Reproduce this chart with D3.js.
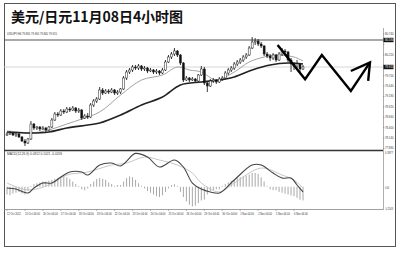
<!DOCTYPE html>
<html><head><meta charset="utf-8">
<script src="https://cdn.jsdelivr.net/npm/d3@7"></script>
<style>
body{margin:0;background:#fff;}
svg{display:block;}
</style></head>
<body>
<svg id="chart" width="400" height="253"></svg>
<script>
var W = 400, H = 253;

// USDJPY H4 bars: [open, high, low, close]
var candles = [
 [78.215,78.29,78.19,78.24],[78.24,78.315,78.215,78.265],[78.265,78.29,78.19,78.215],[78.215,78.265,78.165,78.24],
 [78.24,78.265,78.14,78.165],[78.165,78.19,78.04,78.065],[78.065,78.115,77.94,78.015],[78.015,78.14,77.99,78.115],
 [78.115,78.565,78.09,78.49],[78.49,78.515,78.34,78.39],[78.39,78.44,78.34,78.415],[78.415,78.44,78.315,78.365],
 [78.365,78.44,78.34,78.39],[78.39,78.415,78.29,78.34],[78.34,78.44,78.315,78.415],[78.415,78.64,78.39,78.59],
 [78.59,78.79,78.565,78.74],[78.74,78.79,78.665,78.715],[78.715,78.865,78.69,78.815],[78.815,78.865,78.74,78.79],
 [78.79,78.915,78.765,78.865],[78.865,78.915,78.79,78.84],[78.84,78.94,78.815,78.89],[78.89,78.915,78.765,78.815],
 [78.815,78.89,78.765,78.84],[78.84,78.865,78.59,78.64],[78.64,78.74,78.615,78.69],[78.69,78.765,78.615,78.665],
 [78.665,79.015,78.64,78.965],[78.965,79.115,78.915,79.065],[79.065,79.165,79.015,79.115],[79.115,79.415,79.09,79.34],
 [79.34,79.39,79.215,79.265],[79.265,79.365,79.24,79.315],[79.315,79.365,79.24,79.29],[79.29,79.39,79.265,79.34],
 [79.34,79.365,79.215,79.265],[79.265,79.34,79.215,79.29],[79.29,79.39,79.24,79.365],[79.365,79.69,79.34,79.64],
 [79.64,79.84,79.59,79.79],[79.79,79.89,79.74,79.84],[79.84,79.965,79.79,79.915],[79.915,79.965,79.84,79.89],
 [79.89,79.99,79.84,79.94],[79.94,79.965,79.815,79.865],[79.865,79.94,79.815,79.89],[79.89,79.915,79.765,79.815],
 [79.815,79.89,79.79,79.84],[79.84,79.865,79.74,79.79],[79.79,79.865,79.74,79.815],[79.815,79.84,79.715,79.765],
 [79.765,79.89,79.74,79.84],[79.84,80.09,79.815,80.04],[80.04,80.215,80.015,80.165],[80.165,80.29,80.115,80.24],
 [80.24,80.39,80.19,80.315],[80.315,80.34,80.165,80.215],[80.215,80.24,79.965,80.015],[80.015,80.04,79.54,79.59],
 [79.59,79.69,79.565,79.64],[79.64,79.665,79.54,79.59],[79.59,79.665,79.565,79.615],[79.615,79.64,79.515,79.565],
 [79.565,79.74,79.54,79.715],[79.715,79.94,79.69,79.865],[79.865,79.915,79.465,79.515],[79.515,79.565,79.29,79.44],
 [79.44,79.615,79.415,79.565],[79.565,79.64,79.515,79.59],[79.59,79.615,79.49,79.54],[79.54,79.665,79.515,79.615],
 [79.615,79.69,79.565,79.64],[79.64,79.815,79.615,79.765],[79.765,79.89,79.715,79.84],[79.84,79.94,79.79,79.89],
 [79.89,80.04,79.84,79.99],[79.99,80.09,79.94,80.04],[80.04,80.14,79.99,80.09],[80.09,80.215,80.04,80.165],
 [80.165,80.265,80.115,80.215],[80.215,80.44,80.19,80.39],[80.39,80.665,80.365,80.54],[80.54,80.64,80.465,80.565],
 [80.565,80.615,80.44,80.49],[80.49,80.54,80.39,80.44],[80.44,80.465,80.19,80.24],[80.24,80.29,80.14,80.19],
 [80.19,80.24,80.065,80.14],[80.14,80.265,80.09,80.215],[80.215,80.24,80.04,80.09],[80.09,80.29,80.065,80.24],
 [80.24,80.39,80.19,80.315],[80.315,80.365,80.215,80.29],[80.29,80.315,80.04,80.09],[80.09,80.14,79.79,79.99],
 [79.99,80.04,79.84,79.94],[79.94,80.09,79.89,79.99],[79.99,80.015,79.79,79.865],[79.865,79.965,79.84,79.915]
];

// moving averages, [bar, price]
var fastMA = [[0,78.315],[4,78.29],[8,78.265],[14,78.34],[20,78.49],[25,78.615],[31,78.79],[38,79.215],
  [45,79.59],[52,79.715],[57,79.915],[61,79.84],[65,79.79],[70,79.59],[76,79.79],[81,80.04],[86,80.165],
  [90,80.215],[96,80.165],[99,80.065]];
var slowMA = [[0,78.29],[8,78.265],[14,78.29],[20,78.39],[27,78.465],[31,78.515],[38,78.715],[45,78.965],
  [52,79.165],[58,79.465],[65,79.54],[71,79.59],[76,79.665],[82,79.84],[88,79.965],[94,80.015],[99,79.99]];

// MACD histogram, one value per bar
var macdHist = [-0.09,-0.10,-0.08,-0.07,-0.06,-0.08,-0.09,-0.05,0.01,0.03,
  0.04,0.05,0.06,0.06,0.07,0.08,0.09,0.10,0.11,0.12,
  0.11,0.09,0.06,0.03,0.01,-0.03,-0.04,-0.02,0.03,0.06,
  0.09,0.10,0.09,0.08,0.05,0.03,0.01,0.02,0.02,0.06,
  0.10,0.12,0.11,0.08,0.04,0.01,-0.02,-0.05,-0.07,-0.09,
  -0.11,-0.12,-0.10,-0.06,-0.02,0.02,0.03,0.01,-0.06,-0.12,
  -0.17,-0.21,-0.23,-0.22,-0.19,-0.16,-0.15,-0.09,-0.05,-0.04,
  -0.03,-0.03,0.01,0.03,0.05,0.07,0.08,0.10,0.11,0.12,
  0.13,0.14,0.16,0.16,0.15,0.11,0.06,0.01,-0.03,-0.04,
  -0.04,-0.06,-0.07,-0.08,-0.09,-0.10,-0.11,-0.13,-0.15,-0.16];
var macdLine = [[0,-0.015],[3,-0.027],[7,-0.073],[9,-0.015],[12,0.043],[15,0.043],[18,0.113],[21,0.171],
  [25,0.171],[27,0.136],[31,0.252],[35,0.275],[38,0.241],[42,0.368],[43,0.387],[47,0.345],[51,0.229],
  [56,0.31],[59,0.229],[62,0.043],[65,-0.027],[68,-0.061],[71,-0.073],[76,0.078],[82,0.252],[85,0.252],
  [89,0.159],[92,0.101],[95,0.101],[97,0.02],[99,-0.061]];
var signalLine = [[0,0.043],[7,-0.038],[14,0.02],[20,0.136],[27,0.171],[35,0.252],[40,0.275],[46,0.345],
  [51,0.31],[57,0.252],[62,0.159],[65,0.043],[71,-0.061],[76,0.043],[85,0.217],[92,0.136],[96,0.078],[99,-0.015]];

var priceTicks = [77.88,78.14,78.40,78.66,78.92,79.18,79.44,79.70,79.96,80.22,80.48,80.74];
var macdTicks = [0.3977, 0, -0.2543];
var timeLabels = ["12 Oct 2012","15 Oct 04:00","16 Oct 04:00","17 Oct 04:00","18 Oct 04:00","19 Oct 04:00",
  "22 Oct 04:00","23 Oct 04:00","24 Oct 04:00","25 Oct 04:00","26 Oct 04:00","29 Oct 04:00","30 Oct 04:00",
  "1 Nov 04:00","2 Nov 04:00","5 Nov 04:00","6 Nov 04:00"];
var labelEvery = 6;

var resistance = 80.59;
var bid = 79.915;
// hand drawn forecast, [bar, price]
var forecast = [[90.5,80.465],[99.7,79.61],[105.3,80.215],[115,79.315],[121.4,80.03]];
var arrowHead = [[115,79.815],[121.4,80.03],[120.8,79.57]];

var svg = d3.select("#chart");
var plotL = 4, plotR = 383;

var x = d3.scaleLinear().domain([0, candles.length - 1]).range([7, 303]);
var y = d3.scaleLinear().domain([77.88, 80.74]).range([148.4, 34]);
var ym = d3.scaleLinear().domain([-0.2543, 0.3977]).range([208.6, 152.5]);

var small = "'Liberation Sans', Arial, sans-serif";

// title
svg.append("text")
  .attr("x", 11).attr("y", 22)
  .attr("font-family", "'Noto Sans CJK SC', sans-serif")
  .attr("font-weight", 700)
  .attr("font-size", "14px")
  .attr("fill", "#111")
  .attr("textLength", 172).attr("lengthAdjust", "spacing")
  .text("美元/日元11月08日4小时图");

// outer frame
svg.append("rect")
  .attr("x", 4.5).attr("y", 3.5).attr("width", 391).attr("height", 243)
  .attr("fill", "none").attr("stroke", "#555").attr("stroke-width", 1);

// window lines
svg.append("line").attr("x1", plotL).attr("x2", plotR).attr("y1", y(bid)).attr("y2", y(bid))
  .attr("stroke", "#ccc").attr("stroke-width", 0.8);
svg.append("line").attr("x1", plotL).attr("x2", plotR).attr("y1", y(resistance)).attr("y2", y(resistance))
  .attr("stroke", "#555").attr("stroke-width", 1.1);
svg.append("line").attr("x1", plotL).attr("x2", plotR).attr("y1", 150.5).attr("y2", 150.5)
  .attr("stroke", "#333").attr("stroke-width", 1.3);
svg.append("line").attr("x1", plotL).attr("x2", plotR).attr("y1", 209.5).attr("y2", 209.5)
  .attr("stroke", "#888").attr("stroke-width", 0.8);
svg.append("line").attr("x1", plotR + 0.5).attr("x2", plotR + 0.5).attr("y1", 28).attr("y2", 210)
  .attr("stroke", "#999").attr("stroke-width", 0.8);

// symbol label
svg.append("text").attr("x", 7).attr("y", 34.5)
  .attr("font-family", small).attr("font-size", "3px").attr("fill", "#333")
  .attr("textLength", 50).attr("lengthAdjust", "spacingAndGlyphs")
  .text("USDJPY,H4  79.865 79.965 79.840 79.915");

// moving averages
var maLine = d3.line().x(function(d){ return x(d[0]); }).y(function(d){ return y(d[1]); })
  .curve(d3.curveCatmullRom);
svg.append("path").attr("d", maLine(fastMA))
  .attr("fill", "none").attr("stroke", "#999").attr("stroke-width", 0.9);
svg.append("path").attr("d", maLine(slowMA))
  .attr("fill", "none").attr("stroke", "#222").attr("stroke-width", 1.6);

// candles
var bars = svg.append("g");
bars.selectAll("line").data(candles).enter().append("line")
  .attr("x1", function(d, i){ return x(i); }).attr("x2", function(d, i){ return x(i); })
  .attr("y1", function(d){ return y(d[1]); }).attr("y2", function(d){ return y(d[2]); })
  .attr("stroke", "#222").attr("stroke-width", 0.9);
bars.selectAll("rect").data(candles).enter().append("rect")
  .attr("x", function(d, i){ return x(i) - 1; })
  .attr("width", 2)
  .attr("y", function(d){ return y(Math.max(d[0], d[3])); })
  .attr("height", function(d){ return Math.max(0.8, Math.abs(y(d[0]) - y(d[3]))); })
  .attr("fill", function(d){ return d[3] < d[0] ? "#111" : "#fff"; })
  .attr("stroke", "#222").attr("stroke-width", 0.5);

// forecast zigzag
var fLine = d3.line().x(function(d){ return x(d[0]); }).y(function(d){ return y(d[1]); });
svg.append("path").attr("d", fLine(forecast))
  .attr("fill", "none").attr("stroke", "#000").attr("stroke-width", 2.4)
  .attr("stroke-linejoin", "miter");
svg.append("path").attr("d", fLine(arrowHead))
  .attr("fill", "none").attr("stroke", "#000").attr("stroke-width", 2.4);

// price scale (labels under the boxed prices are hidden, as in the terminal)
var boxed = [resistance, bid];
var shownTicks = priceTicks.filter(function(t){
  return boxed.every(function(b){ return Math.abs(y(t) - y(b)) > 4.5; });
});
var ps = svg.append("g").attr("font-family", small).attr("font-size", "3px").attr("fill", "#333");
ps.selectAll("text").data(shownTicks).enter().append("text")
  .attr("x", 385).attr("y", function(d){ return y(d) + 1; })
  .attr("textLength", 8.5).attr("lengthAdjust", "spacingAndGlyphs")
  .text(function(d){ return d.toFixed(3); });
ps.selectAll("line").data(priceTicks).enter().append("line")
  .attr("x1", plotR).attr("x2", plotR + 1.5)
  .attr("y1", function(d){ return y(d); }).attr("y2", function(d){ return y(d); })
  .attr("stroke", "#777").attr("stroke-width", 0.5);

boxed.forEach(function(p){
  svg.append("rect").attr("x", plotR + 0.5).attr("y", y(p) - 2.2).attr("width", 10).attr("height", 4.4)
    .attr("fill", "#111");
  svg.append("text").attr("x", 385).attr("y", y(p) + 1)
    .attr("font-family", small).attr("font-size", "3px").attr("fill", "#fff")
    .attr("textLength", 8.5).attr("lengthAdjust", "spacingAndGlyphs")
    .text(p.toFixed(3));
});

// MACD window
svg.append("text").attr("x", 7).attr("y", 155)
  .attr("font-family", small).attr("font-size", "3px").attr("fill", "#333")
  .attr("textLength", 55).attr("lengthAdjust", "spacingAndGlyphs")
  .text("MACD(12,26,9)  0.0812 0.1021 -0.0209");

svg.append("g").selectAll("line").data(macdHist).enter().append("line")
  .attr("x1", function(d, i){ return x(i); }).attr("x2", function(d, i){ return x(i); })
  .attr("y1", ym(0)).attr("y2", function(d){ return ym(d); })
  .attr("stroke", "#a8a8a8").attr("stroke-width", 1);

var mLine = d3.line().x(function(d){ return x(d[0]); }).y(function(d){ return ym(d[1]); })
  .curve(d3.curveCatmullRom);
svg.append("path").attr("d", mLine(signalLine))
  .attr("fill", "none").attr("stroke", "#c0c0c0").attr("stroke-width", 0.9);
svg.append("path").attr("d", mLine(macdLine))
  .attr("fill", "none").attr("stroke", "#444").attr("stroke-width", 1.1);

var ms = svg.append("g").attr("font-family", small).attr("font-size", "3px").attr("fill", "#333");
ms.selectAll("text").data(macdTicks).enter().append("text")
  .attr("x", 385).attr("y", function(d){ return ym(d) + 1.8; })
  .attr("textLength", function(d){ return d === 0 ? 4 : 8; }).attr("lengthAdjust", "spacingAndGlyphs")
  .text(function(d){ return d === 0 ? "0.00" : d.toFixed(4); });

// time axis
var ta = svg.append("g").attr("font-family", small).attr("font-size", "3px").attr("fill", "#333");
ta.selectAll("text").data(timeLabels).enter().append("text")
  .attr("x", function(d, i){ return x(i * labelEvery); }).attr("y", 214.5)
  .attr("textLength", function(d){ return d.length * 1.25; }).attr("lengthAdjust", "spacingAndGlyphs")
  .text(function(d){ return d; });
ta.selectAll("line").data(timeLabels).enter().append("line")
  .attr("x1", function(d, i){ return x(i * labelEvery); }).attr("x2", function(d, i){ return x(i * labelEvery); })
  .attr("y1", 209.5).attr("y2", 211)
  .attr("stroke", "#777").attr("stroke-width", 0.5);
</script>
</body></html>
